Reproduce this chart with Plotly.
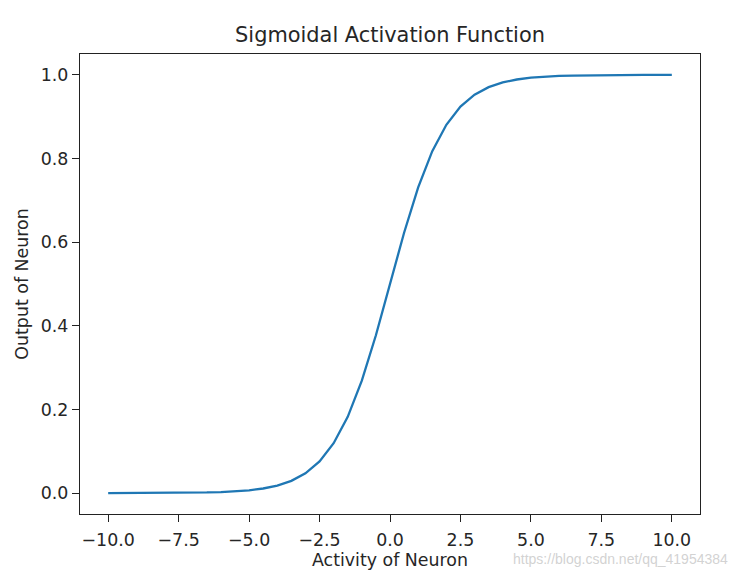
import plotly.graph_objects as go

x_vals = [-10.0, -9.5, -9.0, -8.5, -8.0, -7.5, -7.0, -6.5, -6.0, -5.5, -5.0, -4.5, -4.0, -3.5, -3.0,
          -2.5, -2.0, -1.5, -1.0, -0.5, 0.0, 0.5, 1.0, 1.5, 2.0, 2.5, 3.0, 3.5, 4.0, 4.5, 5.0,
          5.5, 6.0, 6.5, 7.0, 7.5, 8.0, 8.5, 9.0, 9.5, 10.0]
y_vals = [0.00005, 0.00007, 0.00012, 0.0002, 0.00034, 0.00055, 0.00091, 0.0015, 0.0025, 0.0041, 0.0067,
          0.011, 0.018, 0.0293, 0.0474, 0.0759, 0.1192, 0.1824, 0.2689, 0.3775, 0.5,
          0.6225, 0.7311, 0.8176, 0.8808, 0.9241, 0.9526, 0.9707, 0.982, 0.989, 0.9933,
          0.9959, 0.9975, 0.9985, 0.99909, 0.99945, 0.99966, 0.9998, 0.99988, 0.99993, 0.99995]
x_ticks = [-10.0, -7.5, -5.0, -2.5, 0.0, 2.5, 5.0, 7.5, 10.0]
x_tick_text = ["\u221210.0", "\u22127.5", "\u22125.0", "\u22122.5", "0.0", "2.5", "5.0", "7.5", "10.0"]
y_ticks = [0.0, 0.2, 0.4, 0.6, 0.8, 1.0]
y_tick_text = ["0.0", "0.2", "0.4", "0.6", "0.8", "1.0"]

FONT = "DejaVu Sans"
TXT = "#262626"

fig = go.Figure()
fig.add_trace(go.Scatter(x=x_vals, y=y_vals, mode="lines",
                         line=dict(color="#1f77b4", width=2.3), showlegend=False))

axis_common = dict(showline=True, linecolor="#222", linewidth=1.2, mirror=True,
                   ticks="outside", ticklen=7, tickwidth=1.2, tickcolor="#222",
                   showgrid=False, zeroline=False, automargin=False,
                   tickfont=dict(family=FONT, size=17.4, color=TXT))

fig.update_layout(
    width=731, height=562,
    margin=dict(l=72, r=39, t=46, b=56),
    plot_bgcolor="white", paper_bgcolor="white",
    title=dict(text="Sigmoidal Activation Function", xref="paper", x=0.5, xanchor="center",
               y=0.952, yanchor="middle",
               font=dict(family=FONT, size=20.9, color=TXT)),
    xaxis=dict(range=[-11, 11], tickvals=x_ticks, ticktext=x_tick_text, ticklabelstandoff=3,
               title=dict(text="Activity of Neuron", standoff=3,
                          font=dict(family=FONT, size=17.4, color=TXT)),
               **axis_common),
    yaxis=dict(range=[-0.05, 1.05], tickvals=y_ticks, ticktext=y_tick_text,
               title=dict(text="Output of Neuron", standoff=7,
                          font=dict(family=FONT, size=17.4, color=TXT)),
               **axis_common),
    annotations=[dict(text="https://blog.csdn.net/qq_41954384", xref="paper", yref="paper",
                      x=1.048, y=-0.077, xanchor="right", yanchor="top", showarrow=False,
                      font=dict(family="Liberation Sans Narrow, Liberation Sans", size=14,
                                color="rgba(205,205,205,0.9)"))],
)

fig.write_html("out.html")
